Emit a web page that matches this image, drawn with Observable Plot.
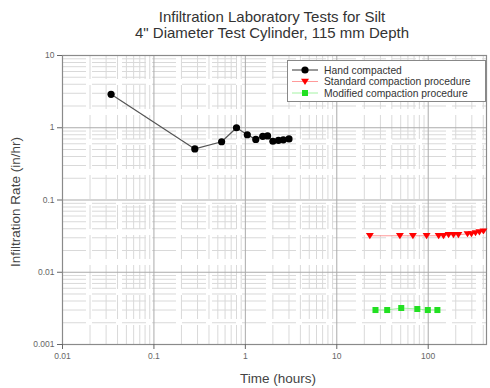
<!DOCTYPE html>
<html>
<head>
<meta charset="utf-8">
<script src="https://cdn.jsdelivr.net/npm/d3@7"></script>
<script src="https://cdn.jsdelivr.net/npm/@observablehq/plot@0.6"></script>
<style>
  html, body { margin: 0; padding: 0; background: #fff; }
  #chart { position: relative; width: 490px; height: 388px; font-family: "Liberation Sans", Arial, sans-serif; }
  #title { height: 42px; text-align: center; color: #333; font-size: 15px; line-height: 16px; padding-top: 9px; box-sizing: border-box; padding-left: 54px; white-space: nowrap; }
  #legend { position: absolute; left: 287px; top: 60px; }
</style>
</head>
<body>
<div id="chart">
  <div id="title">Infiltration Laboratory Tests for Silt<br>4" Diameter Test Cylinder, 115 mm Depth</div>
</div>
<script>
// Hand compacted specimen
const handTime = [0.034, 0.28, 0.55, 0.80, 1.05, 1.30, 1.55, 1.75, 2.0, 2.3, 2.6, 3.0];
const handRate = [2.9, 0.51, 0.64, 1.0, 0.80, 0.69, 0.76, 0.77, 0.65, 0.67, 0.68, 0.70];

// Standard compaction procedure
const stdTime = [23, 49, 68, 96, 130, 147, 167, 189, 214, 269, 297, 329, 363, 402];
const stdRate = [0.032, 0.032, 0.032, 0.032, 0.032, 0.032, 0.033, 0.033, 0.033, 0.034, 0.034, 0.035, 0.036, 0.037];

// Modified compaction procedure
const modTime = [26.5, 35.6, 50.7, 76, 99, 126];
const modRate = [0.0030, 0.0030, 0.0032, 0.0031, 0.0030, 0.0030];

const seriesNames = ["Hand compacted", "Standard compaction procedure", "Modified compaction procedure"];

const xTicks = [0.01, 0.1, 1, 10, 100];
const xTickLabels = ["0.01", "0.1", "1", "10", "100"];
const yTicks = [0.001, 0.01, 0.1, 1, 10];
const yTickLabels = ["0.001", "0.01", "0.1", "1", "10"];
const xTitle = "Time (hours)";
const yTitle = "Infiltration Rate (in/hr)";

const toRows = (t, r) => t.map((x, i) => ({x, y: r[i]}));
const hand = toRows(handTime, handRate);
const std = toRows(stdTime, stdRate);
const mod = toRows(modTime, modRate);

// minor grid values (2..9 within each decade)
const minorOf = (ticks, hi) => ticks.flatMap(d => d3.range(2, 10).map(m => m * d)).filter(v => v < hi);
const xMinor = minorOf(xTicks, 434);
const yMinor = minorOf(yTicks.slice(0, -1), 10);

// downward-pointing triangle symbol
const triangleDown = {
  draw(ctx, size) {
    const r = Math.sqrt(size / Math.PI);
    ctx.moveTo(-r * 1.1, -r * 0.75);
    ctx.lineTo(r * 1.1, -r * 0.75);
    ctx.lineTo(0, r * 0.95);
    ctx.closePath();
  }
};

const gridMinor = "#d9d9d9";
const gridMajor = "#ababab";
const labelOf = (ticks, labels) => d => labels[ticks.findIndex(t => Math.abs(t - d) < t * 1e-6)];

const plot = Plot.plot({
  width: 490,
  height: 346,
  marginLeft: 62,
  marginRight: 4,
  marginTop: 13,
  marginBottom: 44,
  style: {fontFamily: "Liberation Sans, Arial, sans-serif", background: "transparent"},
  x: {type: "log", domain: [0.01, 434]},
  y: {type: "log", domain: [0.001, 10]},
  marks: [
    Plot.ruleX(xMinor, {stroke: gridMinor, strokeWidth: 1, strokeDasharray: "24,6"}),
    Plot.ruleY(yMinor, {stroke: gridMinor, strokeWidth: 1, strokeDasharray: "24,6"}),
    Plot.ruleX(xTicks.slice(1), {stroke: gridMajor, strokeWidth: 1}),
    Plot.ruleY(yTicks.slice(1, -1), {stroke: gridMajor, strokeWidth: 1}),
    Plot.frame({stroke: "#8a8a8a", strokeWidth: 1.2}),
    Plot.axisX({
      ticks: xTicks, tickFormat: labelOf(xTicks, xTickLabels), tickSize: 5, tickPadding: 3,
      fontSize: 8.5, color: "#666", stroke: "#666", label: null
    }),
    Plot.axisY({
      ticks: yTicks, tickFormat: labelOf(yTicks, yTickLabels), tickSize: 5, tickPadding: 3,
      fontSize: 8.5, color: "#666", stroke: "#666", label: null
    }),
    Plot.line(hand, {x: "x", y: "y", stroke: "#555", strokeWidth: 1.2}),
    Plot.line(std, {x: "x", y: "y", stroke: "#ff8080", strokeWidth: 0.8}),
    Plot.line(mod, {x: "x", y: "y", stroke: "#8ef08e", strokeWidth: 0.8}),
    Plot.dot(hand, {x: "x", y: "y", r: 3.6, fill: "#000", stroke: "none"}),
    Plot.dot(std, {x: "x", y: "y", r: 3.6, symbol: triangleDown, fill: "#ff0000", stroke: "none"}),
    Plot.dot(mod, {x: "x", y: "y", r: 3.4, symbol: "square", fill: "#22e022", stroke: "none"})
  ]
});
plot.style.display = "block";
document.getElementById("chart").appendChild(plot);

// axis titles
const svg = d3.select(plot);
svg.append("text").attr("x", 278).attr("y", 336).attr("dy", "0.35em")
  .attr("text-anchor", "middle").attr("font-size", 13.5).attr("fill", "#444")
  .attr("font-family", "Liberation Sans, Arial, sans-serif").text(xTitle);
svg.append("text").attr("transform", "translate(15,160) rotate(-90)").attr("dy", "0.35em")
  .attr("text-anchor", "middle").attr("font-size", 13.5).attr("fill", "#444")
  .attr("font-family", "Liberation Sans, Arial, sans-serif").text(yTitle);

// legend box inside the plot area
const colors = ["#000", "#ff0000", "#22e022"];
const lineColors = ["#555", "#ff8080", "#8ef08e"];
const lg = d3.select("#chart").append("svg")
  .attr("id", "legend").attr("width", 199).attr("height", 42);
lg.append("rect").attr("x", 0.5).attr("y", 0.5).attr("width", 198).attr("height", 41)
  .attr("fill", "#fff").attr("stroke", "#888");
const symGen = [d3.symbolCircle, triangleDown, d3.symbolSquare];
const symSize = [Math.PI * 3.6 * 3.6, Math.PI * 3.6 * 3.6, Math.PI * 3.4 * 3.4];
seriesNames.forEach((name, i) => {
  const cy = 10 + i * 11.5;
  lg.append("line").attr("x1", 5).attr("x2", 31).attr("y1", cy).attr("y2", cy)
    .attr("stroke", lineColors[i]).attr("stroke-width", i === 0 ? 1.2 : 0.8);
  lg.append("path").attr("transform", `translate(18,${cy})`)
    .attr("d", d3.symbol(symGen[i], symSize[i])()).attr("fill", colors[i]);
  lg.append("text").attr("x", 37).attr("y", cy).attr("dy", "0.35em")
    .attr("font-size", 10.3).attr("fill", "#333")
    .attr("font-family", "Liberation Sans, Arial, sans-serif").text(name);
});
</script>
</body>
</html>
